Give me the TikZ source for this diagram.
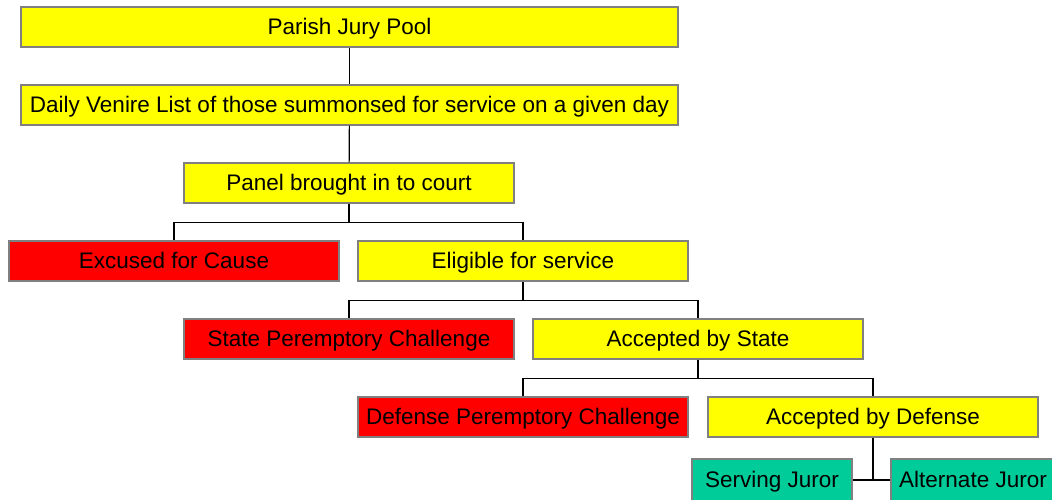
\documentclass[tikz,border=0pt]{standalone}
\usepackage{fontspec}
\setmainfont{Liberation Sans}
\usetikzlibrary{calc}
\definecolor{juroryellow}{HTML}{FFFF00}
\definecolor{jurorred}{HTML}{FF0000}
\definecolor{jurorgreen}{HTML}{00CC99}

\begin{document}
\begin{tikzpicture}[x=1pt, y=-1pt,
		box/.style={draw=black!50, line width=1.2pt, inner sep=0pt, minimum height=40pt, text height=17pt, text depth=3pt, font=\fontsize{22.5}{26}\selectfont},
		yes/.style={box, fill=juroryellow},
		no/.style={box, fill=jurorred},
		juror/.style={box, fill=jurorgreen, minimum height=42pt},
		link/.style={line width=1.2pt}]
		%%%%% START %%%%%
		
		\useasboundingbox (0, 0) rectangle (1052, 499);
		
		\node[yes, minimum width=657pt] (pool) at (349.5, 27) {Parish Jury Pool};
		\node[yes, minimum width=657pt] (venire) at (349.5, 105) {Daily Venire List of those summonsed for service on a given day};
		\node[yes, minimum width=330pt] (panel) at (349, 183) {Panel brought in to court};
		
		\node[no, minimum width=330pt] (cause) at (174, 261) {Excused for Cause};
		\node[yes, minimum width=330pt] (eligible) at (523, 261) {Eligible for service};
		
		\node[no, minimum width=330pt] (statepc) at (349, 339) {State Peremptory Challenge};
		\node[yes, minimum width=330pt] (state) at (698, 339) {Accepted by State};
		
		\node[no, minimum width=330pt] (defensepc) at (523, 417) {Defense Peremptory Challenge};
		\node[yes, minimum width=330pt] (defense) at (873, 417) {Accepted by Defense};
		
		\node[juror, minimum width=160pt] (serving) at (772, 480) {Serving Juror};
		\node[juror, minimum width=164pt] (alternate) at (973, 480) {Alternate Juror};
		
		% connectors
		\draw[link] (pool) -- (venire);
		\draw[link] (venire) -- (panel);
		
		\draw[link] (panel.south) -- ++(0, 19) -| (cause.north);
		\draw[link] (panel.south) -- ++(0, 19) -| (eligible.north);
		
		\draw[link] (eligible.south) -- ++(0, 19) -| (statepc.north);
		\draw[link] (eligible.south) -- ++(0, 19) -| (state.north);
		
		\draw[link] (state.south) -- ++(0, 19) -| (defensepc.north);
		\draw[link] (state.south) -- ++(0, 19) -| (defense.north);
		
		\draw[link] (defense.south) |- (serving.east);
		\draw[link] (defense.south) |- (alternate.west);
		
		%%%%% END %%%%%
	\end{tikzpicture}
\end{document}
